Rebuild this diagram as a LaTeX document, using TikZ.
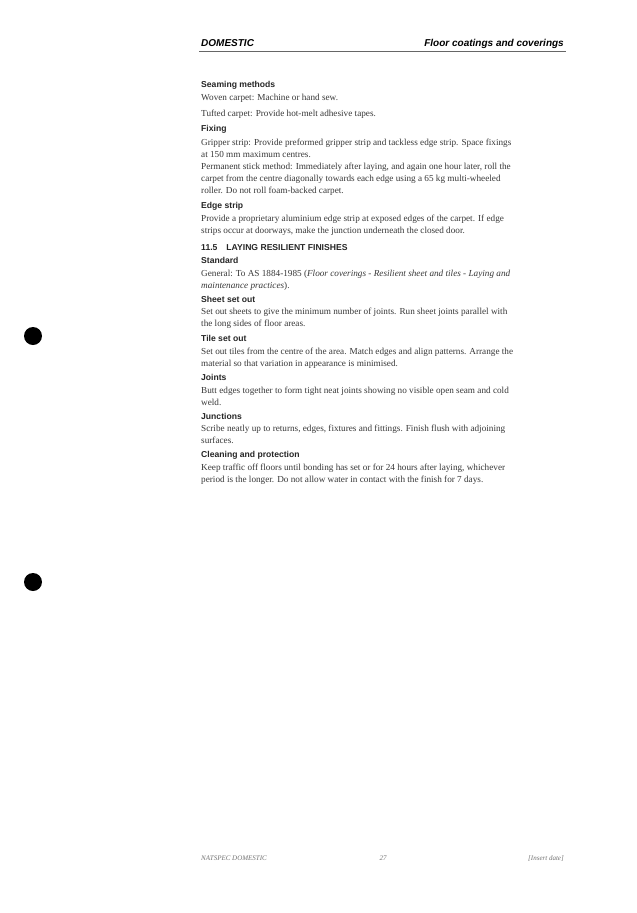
\documentclass[tikz,border=0pt]{standalone}
\usepackage{fontspec}
\setmainfont{Liberation Serif}
\setsansfont{Liberation Sans}
\begin{document}
\begin{tikzpicture}[x=1pt,y=-1pt,
  bt/.style={anchor=base west,inner sep=0pt,font=\fontsize{9.2}{11}\selectfont,text=black!78},
  hd/.style={anchor=base west,inner sep=0pt,font=\sffamily\bfseries\fontsize{8.6}{10}\selectfont,text=black!85},
  ft/.style={inner sep=0pt,font=\itshape\fontsize{7}{8}\selectfont,text=black!55,anchor=base}]
\useasboundingbox[fill=white] (0,0) rectangle (637,913);
\node[anchor=base west,inner sep=0pt,font=\sffamily\bfseries\itshape\fontsize{10}{12}\selectfont] (h1) at (201,46) {DOMESTIC};
\node[anchor=base east,inner sep=0pt,font=\sffamily\bfseries\itshape\fontsize{10}{12}\selectfont] (h2) at (564,46) {Floor coatings and coverings};
\draw[black!60,line width=0.8] (199,51) -- (566,51);
\node[hd] (a1) at (201,87) {Seaming methods};
\node[bt] (a2) at (201,100) {Woven carpet: Machine or hand sew.};
\node[bt] (a3) at (201,116) {Tufted carpet: Provide hot-melt adhesive tapes.};
\node[hd] (b1) at (201,131) {Fixing};
\node[bt] (b2) at (201,145) {Gripper strip: Provide preformed gripper strip and tackless edge strip. Space fixings};
\node[bt] (b3) at (201,157) {at 150 mm maximum centres.};
\node[bt] (b4) at (201,169) {Permanent stick method: Immediately after laying, and again one hour later, roll the};
\node[bt] (b5) at (201,181) {carpet from the centre diagonally towards each edge using a 65 kg multi-wheeled};
\node[bt] (b6) at (201,193) {roller. Do not roll foam-backed carpet.};
\node[hd] (c1) at (201,208) {Edge strip};
\node[bt] (c2) at (201,221) {Provide a proprietary aluminium edge strip at exposed edges of the carpet. If edge};
\node[bt] (c3) at (201,233) {strips occur at doorways, make the junction underneath the closed door.};
\node[hd] (d0) at (201,250) {11.5\hspace{9pt}LAYING RESILIENT FINISHES};
\node[hd] (d1) at (201,263) {Standard};
\node[bt] (d2) at (201,276) {General: To AS 1884-1985 (\textit{Floor coverings - Resilient sheet and tiles - Laying and}};
\node[bt] (d3) at (201,288) {\textit{maintenance practices}).};
\node[hd] (e1) at (201,302) {Sheet set out};
\node[bt] (e2) at (201,314) {Set out sheets to give the minimum number of joints. Run sheet joints parallel with};
\node[bt] (e3) at (201,326) {the long sides of floor areas.};
\node[hd] (f1) at (201,341) {Tile set out};
\node[bt] (f2) at (201,354) {Set out tiles from the centre of the area. Match edges and align patterns. Arrange the};
\node[bt] (f3) at (201,366) {material so that variation in appearance is minimised.};
\node[hd] (g1) at (201,380) {Joints};
\node[bt] (g2) at (201,393) {Butt edges together to form tight neat joints showing no visible open seam and cold};
\node[bt] (g3) at (201,405) {weld.};
\node[hd] (i1) at (201,419) {Junctions};
\node[bt] (i2) at (201,431) {Scribe neatly up to returns, edges, fixtures and fittings. Finish flush with adjoining};
\node[bt] (i3) at (201,443) {surfaces.};
\node[hd] (j1) at (201,457) {Cleaning and protection};
\node[bt] (j2) at (201,470) {Keep traffic off floors until bonding has set or for 24 hours after laying, whichever};
\node[bt] (j3) at (201,482) {period is the longer. Do not allow water in contact with the finish for 7 days.};
\node[ft,anchor=base west] (k1) at (201,860) {NATSPEC DOMESTIC};
\node[ft] (k2) at (383,860) {27};
\node[ft,anchor=base east] (k3) at (564,860) {[Insert date]};
\fill (33,336) circle (9);
\fill (33,582) circle (9);
\end{tikzpicture}
\end{document}
